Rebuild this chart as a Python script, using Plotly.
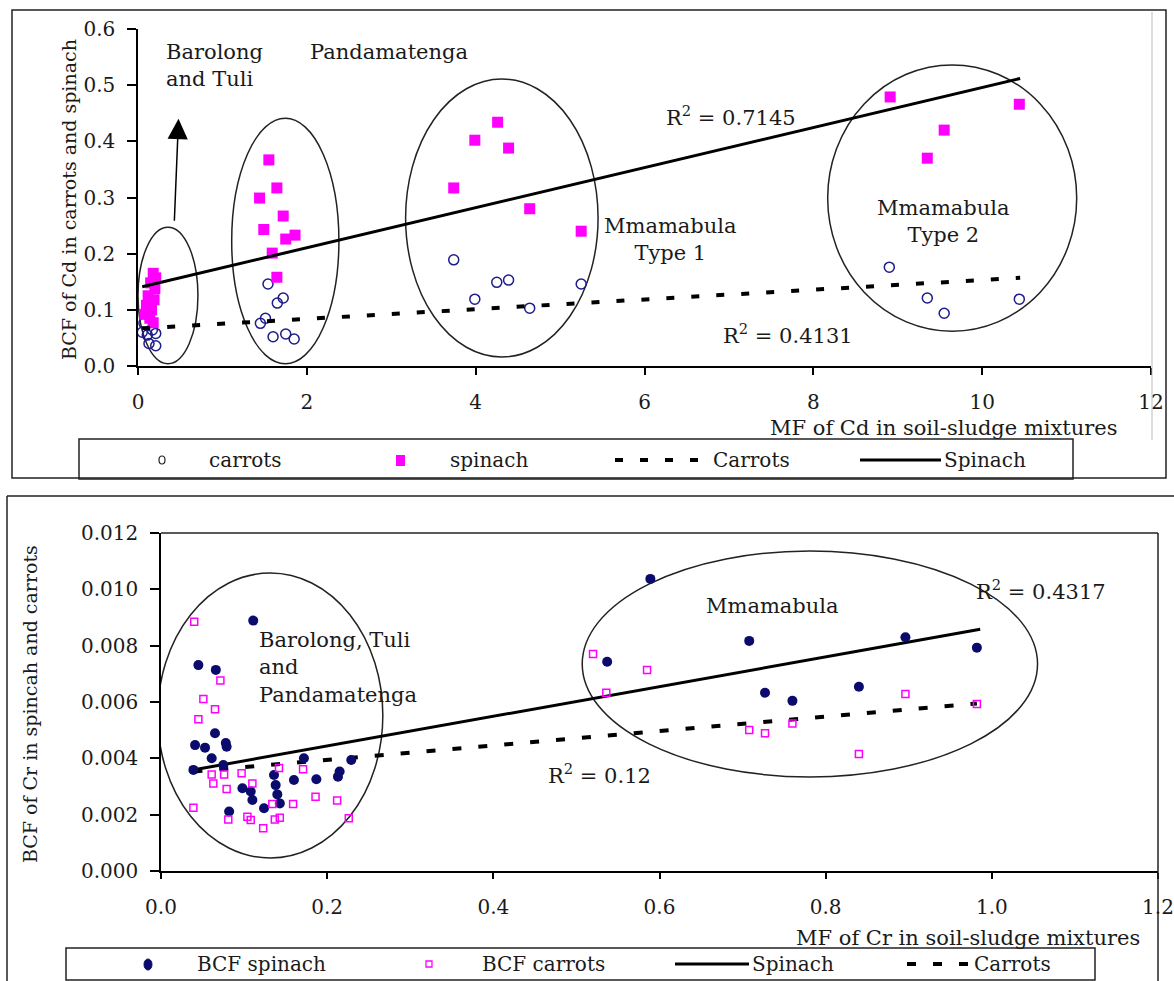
import plotly.graph_objects as go

# ---------------- data: Cd (top panel) ----------------
cd_carrot_x = [0.05, 0.07, 0.11, 0.13, 0.17, 0.21, 0.21,
               1.45, 1.51, 1.54, 1.60, 1.65, 1.72, 1.75, 1.85,
               3.74, 3.99, 4.25, 4.39, 4.64, 5.25,
               8.90, 9.35, 9.55, 10.44]
cd_carrot_y = [0.060, 0.076, 0.055, 0.040, 0.064, 0.058, 0.036,
               0.076, 0.085, 0.146, 0.052, 0.112, 0.121, 0.057, 0.048,
               0.189, 0.119, 0.149, 0.153, 0.103, 0.146,
               0.176, 0.121, 0.094, 0.119]
cd_spin_x = [0.18, 0.21, 0.15, 0.20, 0.12, 0.19, 0.10, 0.16, 0.08, 0.14, 0.18,
             1.55, 1.645, 1.44, 1.72, 1.49, 1.86, 1.75, 1.59, 1.645,
             3.74, 3.99, 4.26, 4.39, 4.64, 5.25,
             8.91, 9.35, 9.55, 10.44]
cd_spin_y = [0.165, 0.157, 0.148, 0.138, 0.125, 0.118, 0.108, 0.100, 0.092, 0.085, 0.077,
             0.367, 0.317, 0.299, 0.267, 0.243, 0.233, 0.226, 0.201, 0.158,
             0.317, 0.402, 0.434, 0.388, 0.280, 0.240,
             0.479, 0.370, 0.420, 0.466]
cd_spin_trend_x = [0.05, 10.45]
cd_spin_trend_y = [0.141, 0.512]
cd_carrot_trend_x = [0.05, 10.45]
cd_carrot_trend_y = [0.067, 0.157]
cd_xticks = [0, 2, 4, 6, 8, 10, 12]
cd_yticks = [0.0, 0.1, 0.2, 0.3, 0.4, 0.5, 0.6]

# ---------------- data: Cr (bottom panel) ----------------
cr_spin_x = [0.111, 0.045, 0.066, 0.065, 0.041, 0.053, 0.078, 0.079, 0.061, 0.075, 0.039,
             0.098, 0.108, 0.110, 0.082, 0.124, 0.136, 0.138, 0.140, 0.143, 0.160,
             0.172, 0.187, 0.213, 0.215, 0.229,
             0.537, 0.589, 0.708, 0.727, 0.760, 0.840, 0.896, 0.982]
cr_spin_y = [0.00889, 0.00731, 0.00714, 0.00489, 0.00447, 0.00438, 0.00454, 0.00441, 0.00400, 0.00376, 0.00359,
             0.00294, 0.00282, 0.00252, 0.00211, 0.00223, 0.00341, 0.00305, 0.00272, 0.00240, 0.00323,
             0.00400, 0.00326, 0.00335, 0.00353, 0.00394,
             0.00743, 0.01037, 0.00817, 0.00633, 0.00604, 0.00654, 0.00830, 0.00793]
cr_carrot_x = [0.040, 0.0715, 0.051, 0.065, 0.045, 0.061, 0.076, 0.097, 0.063, 0.079, 0.110,
               0.039, 0.081, 0.104, 0.108, 0.123, 0.134, 0.137, 0.143, 0.142, 0.171,
               0.186, 0.159, 0.212, 0.226,
               0.520, 0.585, 0.536, 0.708, 0.727, 0.760, 0.840, 0.896, 0.982]
cr_carrot_y = [0.00885, 0.00676, 0.00611, 0.00574, 0.00539, 0.00343, 0.00343, 0.00347, 0.00311, 0.00291, 0.00311,
               0.00225, 0.00183, 0.00193, 0.00181, 0.00152, 0.00238, 0.00183, 0.00189, 0.00366, 0.00361,
               0.00264, 0.00238, 0.00250, 0.00187,
               0.00770, 0.00714, 0.00633, 0.00501, 0.00489, 0.00524, 0.00415, 0.00628, 0.00593]
cr_spin_trend_x = [0.043, 0.986]
cr_spin_trend_y = [0.00361, 0.00858]
cr_carrot_trend_x = [0.039, 0.982]
cr_carrot_trend_y = [0.00353, 0.00595]
cr_xticks = [0.0, 0.2, 0.4, 0.6, 0.8, 1.0, 1.2]
cr_yticks = [0.000, 0.002, 0.004, 0.006, 0.008, 0.010, 0.012]

# ---------------- layout helpers ----------------
W, H = 1174, 981
FONT = "DejaVu Serif"
TXT = "#1a1a1a"
MAG = "#ff00ff"
NAVY = "#0b0b6e"


def fx(px):
    return px / W


def fy(py):
    return 1 - py / H


fig = go.Figure()

# top panel traces
fig.add_trace(go.Scatter(x=cd_carrot_x, y=cd_carrot_y, mode="markers", name="carrots",
                         marker=dict(symbol="circle-open", size=10, color="#1c1c8a", line=dict(width=1.5)),
                         xaxis="x", yaxis="y", showlegend=False))
fig.add_trace(go.Scatter(x=cd_spin_x, y=cd_spin_y, mode="markers", name="spinach",
                         marker=dict(symbol="square", size=11, color=MAG),
                         xaxis="x", yaxis="y", showlegend=False))
fig.add_trace(go.Scatter(x=cd_carrot_trend_x, y=cd_carrot_trend_y, mode="lines", name="Carrots",
                         line=dict(color="black", width=4, dash="8px,17px"),
                         xaxis="x", yaxis="y", showlegend=False))
fig.add_trace(go.Scatter(x=cd_spin_trend_x, y=cd_spin_trend_y, mode="lines", name="Spinach",
                         line=dict(color="black", width=3),
                         xaxis="x", yaxis="y", showlegend=False))

# bottom panel traces
fig.add_trace(go.Scatter(x=cr_carrot_trend_x, y=cr_carrot_trend_y, mode="lines", name="Carrots",
                         line=dict(color="black", width=4, dash="9px,17px"),
                         xaxis="x2", yaxis="y2", showlegend=False))
fig.add_trace(go.Scatter(x=cr_spin_trend_x, y=cr_spin_trend_y, mode="lines", name="Spinach",
                         line=dict(color="black", width=3),
                         xaxis="x2", yaxis="y2", showlegend=False))
fig.add_trace(go.Scatter(x=cr_spin_x, y=cr_spin_y, mode="markers", name="BCF spinach",
                         marker=dict(symbol="circle", size=10, color=NAVY),
                         xaxis="x2", yaxis="y2", showlegend=False))
fig.add_trace(go.Scatter(x=cr_carrot_x, y=cr_carrot_y, mode="markers", name="BCF carrots",
                         marker=dict(symbol="square-open", size=7, color=MAG, line=dict(width=1.5)),
                         xaxis="x2", yaxis="y2", showlegend=False))

axis_common = dict(showgrid=False, zeroline=False, showline=True, linecolor="black", linewidth=1.5,
                   ticks="outside", tickcolor="black", tickwidth=1.5, automargin=False,
                   tickfont=dict(family=FONT, size=20, color=TXT))

fig.update_layout(
    width=W, height=H, margin=dict(l=0, r=0, t=0, b=0, pad=0, autoexpand=False),
    paper_bgcolor="white", plot_bgcolor="white", showlegend=False,
    xaxis=dict(domain=[fx(138), fx(1151)], range=[0, 12], tickvals=cd_xticks, ticklen=7,
               ticklabelstandoff=10, anchor="y", **axis_common),
    yaxis=dict(domain=[fy(366), fy(29)], range=[0, 0.6], tickvals=cd_yticks, tickformat=".1f",
               ticklen=9, ticklabelstandoff=8, anchor="x", **axis_common),
    xaxis2=dict(domain=[fx(161), fx(1158)], range=[0, 1.2], tickvals=cr_xticks, tickformat=".1f", ticklen=6,
                ticklabelstandoff=11, anchor="y2", **axis_common),
    yaxis2=dict(domain=[fy(871), fy(533)], range=[0, 0.012], tickvals=cr_yticks, tickformat=".3f",
                ticklen=9, ticklabelstandoff=8, anchor="x2", **axis_common),
)

shapes = []
# ellipses (top)
for x0, x1, y0, y1 in [(0.0, 0.71, 0.004, 0.247), (1.11, 2.38, 0.004, 0.441),
                       (3.17, 5.45, 0.016, 0.511), (8.17, 11.12, 0.062, 0.536)]:
    shapes.append(dict(type="circle", xref="x", yref="y", x0=x0, x1=x1, y0=y0, y1=y1,
                       line=dict(color="#222", width=1.5), layer="below"))
# ellipses (bottom)
for x0, x1, y0, y1 in [(-0.004, 0.267, 0.00046, 0.01058), (0.507, 1.055, 0.00334, 0.01136)]:
    shapes.append(dict(type="circle", xref="x2", yref="y2", x0=x0, x1=x1, y0=y0, y1=y1,
                       line=dict(color="#222", width=1.5), layer="below"))


def prect(x0, y0, x1, y1, w=1.5, color="#222"):
    shapes.append(dict(type="rect", xref="paper", yref="paper", x0=fx(x0), x1=fx(x1), y0=fy(y1), y1=fy(y0),
                       line=dict(color=color, width=w)))


def pline(x0, y0, x1, y1, w=1.5, color="#222", dash=None):
    ln = dict(color=color, width=w)
    if dash:
        ln["dash"] = dash
    shapes.append(dict(type="line", xref="paper", yref="paper", x0=fx(x0), x1=fx(x1), y0=fy(y0), y1=fy(y1),
                       line=ln))


# frames
prect(12, 10, 1166, 478)
pline(1152, 12, 1152, 440, w=1, color="#bbbbbb")
prect(79, 439, 1073, 479)
pline(7, 496, 1174, 496)
pline(7, 496, 7, 981)
pline(161, 533, 1158, 533)
pline(1158, 533, 1158, 981)
prect(66, 948, 1095, 980)

# legend symbols (top)
shapes.append(dict(type="circle", xref="paper", yref="paper", x0=fx(159), x1=fx(165), y0=fy(464), y1=fy(456),
                   line=dict(color="#222", width=1.2)))
shapes.append(dict(type="rect", xref="paper", yref="paper", x0=fx(396), x1=fx(405), y0=fy(466), y1=fy(455),
                   fillcolor=MAG, line=dict(width=0)))
pline(615, 460, 708, 460, w=4, color="black", dash="8px,17px")
pline(860, 460, 941, 460, w=3, color="black")
# legend symbols (bottom)
shapes.append(dict(type="circle", xref="paper", yref="paper", x0=fx(144), x1=fx(152), y0=fy(970), y1=fy(959),
                   fillcolor=NAVY, line=dict(color=NAVY, width=1)))
shapes.append(dict(type="rect", xref="paper", yref="paper", x0=fx(426), x1=fx(432), y0=fy(967), y1=fy(961),
                   line=dict(color=MAG, width=1.3)))
pline(675, 964, 749, 964, w=3, color="black")
pline(907, 964, 972, 964, w=4, color="black", dash="9px,17px")

fig.update_layout(shapes=shapes)

anns = []


def ptext(text, x, y, size=21, xanchor="left", align="left", angle=0):
    anns.append(dict(text=text, x=fx(x), y=fy(y), xref="paper", yref="paper", showarrow=False,
                     xanchor=xanchor, yanchor="middle", align=align, textangle=angle,
                     font=dict(family=FONT, size=size, color=TXT)))


# top panel text
ptext("BCF of Cd in carrots and spinach", 69, 200, size=19, xanchor="center", angle=-90)
ptext("MF of Cd in soil-sludge mixtures", 1120, 428, size=21, xanchor="right")
ptext("Barolong<br>and Tuli", 164, 66, size=21)
ptext("Pandamatenga", 308, 52, size=21)
ptext("R<sup>2</sup> = 0.7145", 664, 116, size=21)
ptext("Mmamabula<br>Type 1", 670, 239, size=21, xanchor="center", align="center")
ptext("Mmamabula<br>Type 2", 943, 221, size=21, xanchor="center", align="center")
ptext("R<sup>2</sup> = 0.4131", 721, 334, size=21)
ptext("carrots", 207, 460, size=20)
ptext("spinach", 448, 460, size=20)
ptext("Carrots", 711, 460, size=20)
ptext("Spinach", 942, 460, size=20)

# bottom panel text
ptext("BCF of Cr in spincah and carrots", 30, 704, size=19, xanchor="center", angle=-90)
ptext("MF of Cr in soil-sludge mixtures", 1142, 938, size=21, xanchor="right")
ptext("Barolong, Tuli<br>and<br>Pandamatenga", 257, 667, size=21)
ptext("Mmamabula", 704, 606, size=21)
ptext("R<sup>2</sup> = 0.4317", 974, 590, size=21)
ptext("R<sup>2</sup> = 0.12", 546, 774, size=21)
ptext("BCF spinach", 195, 964, size=20)
ptext("BCF carrots", 480, 964, size=20)
ptext("Spinach", 750, 964, size=20)
ptext("Carrots", 972, 964, size=20)

# arrow (Barolong and Tuli)
anns.append(dict(text="", x=0.48, y=0.44, ax=0.43, ay=0.256, xref="x", yref="y", axref="x", ayref="y",
                 showarrow=True, arrowhead=2, arrowsize=2.7, arrowwidth=1.5, arrowcolor="black",
                 standoff=0, startstandoff=0))

fig.update_layout(annotations=anns)

page_css = ("document.documentElement.style.margin='0';document.documentElement.style.padding='0';"
            "document.documentElement.style.overflow='hidden';document.body.style.margin='0';"
            "document.body.style.padding='0';document.body.style.overflow='hidden';")
fig.write_html("out.html", post_script=page_css)
